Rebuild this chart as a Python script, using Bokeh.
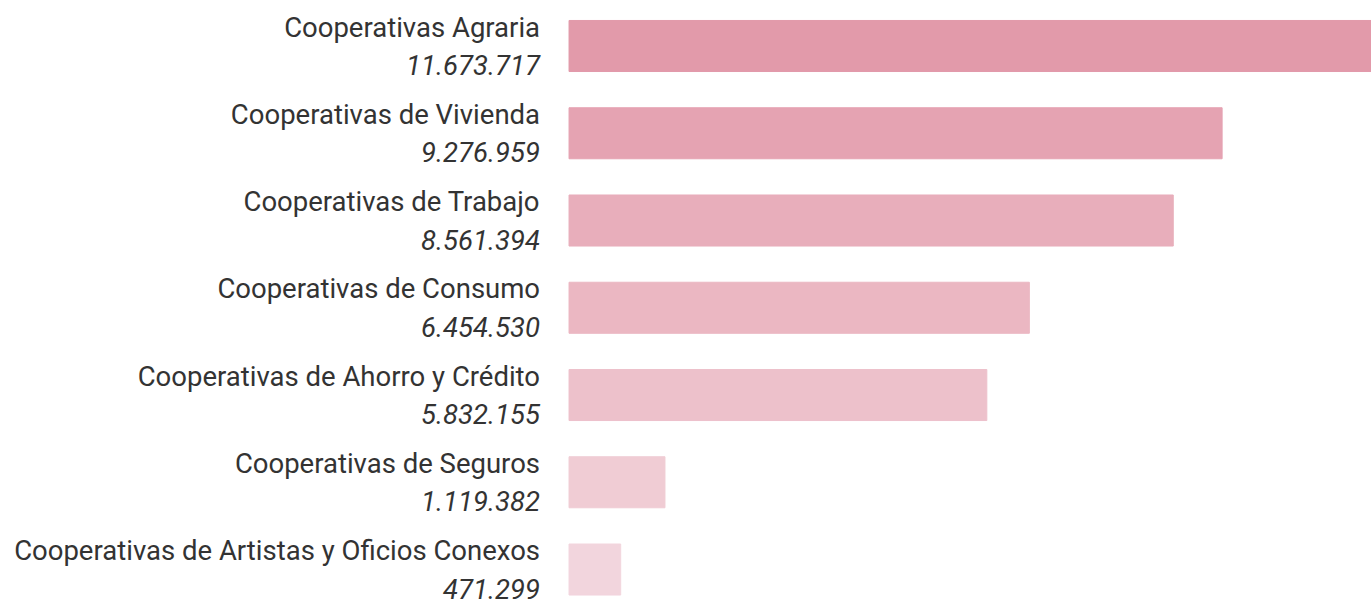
from bokeh.plotting import figure
from bokeh.models import ColumnDataSource, Range1d
from bokeh.core.properties import value
from bokeh.embed import file_html
from bokeh.resources import INLINE

categories = [
    "Cooperativas Agraria",
    "Cooperativas de Vivienda",
    "Cooperativas de Trabajo",
    "Cooperativas de Consumo",
    "Cooperativas de Ahorro y Crédito",
    "Cooperativas de Seguros",
    "Cooperativas de Artistas y Oficios Conexos",
]
values = [11673717, 9276959, 8561394, 6454530, 5832155, 1119382, 471299]
colors = ["#e29aaa", "#e5a3b2", "#e8aebb", "#ebb7c2", "#edc1cb", "#f0ccd4", "#f2d5dd"]

def fmt(v):
    return f"{v:,}".replace(",", ".")

BASE = -285000
n = len(categories)
src = ColumnDataSource(dict(
    y=list(range(n)),
    right=values,
    left=[BASE] * n,
    color=colors,
    name=categories,
    val=[fmt(v) for v in values],
))

p = figure(width=1371, height=600, output_backend="svg", toolbar_location=None,
           x_range=Range1d(-8609000, 11464000), y_range=Range1d(6.355, -0.5215),
           min_border=0, min_border_left=0, min_border_right=0,
           min_border_top=0, min_border_bottom=0)
p.axis.visible = False
p.grid.visible = False
p.outline_line_color = None
p.background_fill_color = "white"
p.border_fill_color = "white"

p.hbar(y="y", left="left", right="right", height=0.585, color="color", source=src)

p.text(x="left", y="y", text="name", source=src, x_offset=-29, y_offset=-19,
       text_align="right", text_baseline="alphabetic", text_font=value("Roboto"),
       text_font_size="27.5px", text_color="#333333")
p.text(x="left", y="y", text="val", source=src, x_offset=-29, y_offset=19,
       text_align="right", text_baseline="alphabetic", text_font=value("Roboto"),
       text_font_size="27.5px", text_font_style="italic", text_color="#333333")

open("out.html", "w").write(file_html(p, INLINE))
